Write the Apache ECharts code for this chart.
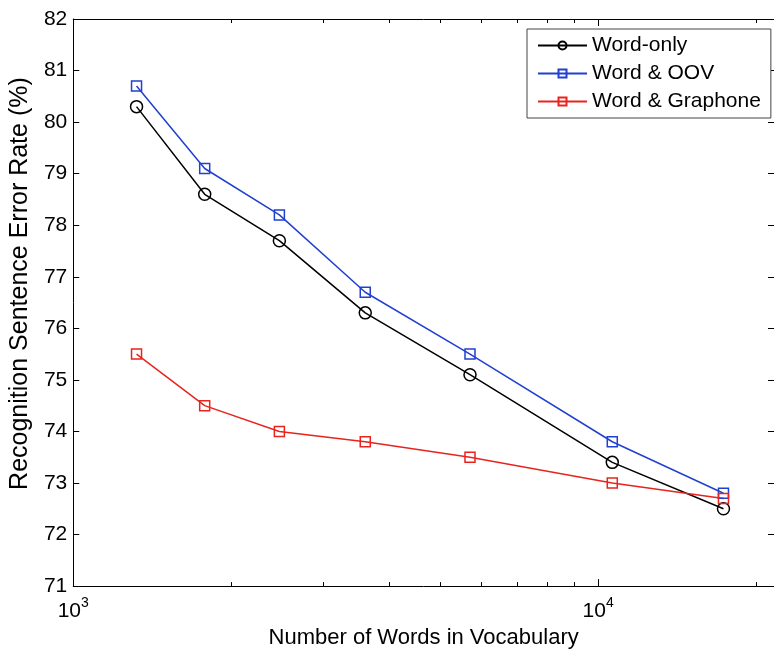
<!DOCTYPE html>
<html>
<head>
<meta charset="utf-8">
<script src="https://cdn.jsdelivr.net/npm/echarts@6/dist/echarts.min.js"></script>
<style>
    html, body { margin: 0; padding: 0; background: #fff; }
    #errorRateChart { width: 774px; height: 654px; }
</style>
</head>
<body>
<div id="errorRateChart"></div>
<script>
// vocabulary sizes (x, log scale)
var vocabSizes = [1320, 1780, 2470, 3600, 5700, 10640, 17330];
// sentence error rate (%) per system
var wordOnly = [80.3, 78.6, 77.7, 76.3, 75.1, 73.4, 72.5];
var wordOov = [80.7, 79.1, 78.2, 76.7, 75.5, 73.8, 72.8];
var wordGraphone = [75.5, 74.5, 74.0, 73.8, 73.5, 73.0, 72.7];
var seriesNames = ['Word-only', 'Word & OOV', 'Word & Graphone'];
// tick positions
var xMajorTicks = [1000, 10000];
var xMinorTicks = [2000, 3000, 4000, 5000, 6000, 7000, 8000, 9000, 20000];

initErrorRateChart();

function toPairs(xs, ys) {
    var out = [];
    for (var i = 0; i < xs.length; i++) {
        out.push([xs[i], ys[i]]);
    }
    return out;
}

function makeSeries(name, values, color, symbol, size) {
    return {
        name: name,
        type: 'line',
        xAxisIndex: 0,
        yAxisIndex: 0,
        data: toPairs(vocabSizes, values),
        symbol: symbol,
        symbolSize: size,
        showAllSymbol: true,
        lineStyle: { color: color, width: 1.5 },
        itemStyle: { color: 'rgba(255,255,255,0)', borderColor: color, borderWidth: 1.5 },
        emphasis: { disabled: true },
        animation: false
    };
}

function initErrorRateChart() {
    var dom = document.getElementById('errorRateChart');
    var myChart = echarts.init(dom, null, { renderer: 'canvas' });
    var font = 'Liberation Sans';
    var xMin = 1000, xMax = 21630;

    // one log x axis per tick group (bottom / top, major / minor)
    function xAxisDef(position, ticks, len, showLine, showLabels) {
        return {
            type: 'log',
            logBase: 10,
            min: xMin,
            max: xMax,
            position: position,
            gridIndex: 0,
            axisLine: { show: showLine, lineStyle: { color: '#000', width: 1 } },
            axisTick: { show: true, inside: true, length: len, customValues: ticks, lineStyle: { color: '#000', width: 1 } },
            axisLabel: showLabels ? {
                show: true,
                customValues: xMajorTicks,
                margin: 10,
                fontFamily: font,
                color: '#000',
                formatter: function (v) {
                    return '{b|10}{s|' + Math.round(Math.log10(v)) + '}';
                },
                rich: {
                    b: { fontSize: 21, fontFamily: font, color: '#000', verticalAlign: 'bottom' },
                    s: { fontSize: 14, fontFamily: font, color: '#000', verticalAlign: 'top', padding: [0, 0, 12, 0] }
                }
            } : { show: false },
            splitLine: { show: false },
            minorTick: { show: false }
        };
    }

    var xAxes = [
        xAxisDef('bottom', xMajorTicks, 7, true, true),
        xAxisDef('bottom', xMinorTicks, 4, false, false),
        xAxisDef('top', xMajorTicks, 7, true, false),
        xAxisDef('top', xMinorTicks, 4, false, false)
    ];
    xAxes[0].name = 'Number of Words in Vocabulary';
    xAxes[0].nameLocation = 'middle';
    xAxes[0].nameGap = 40;
    xAxes[0].nameTextStyle = { fontSize: 22, fontFamily: font, color: '#000' };

    var option = {
        backgroundColor: '#fff',
        animation: false,
        textStyle: { fontFamily: font },
        grid: { left: 71, top: 19, width: 705, height: 569, containLabel: false },
        legend: {
            orient: 'vertical',
            left: 527,
            top: 29,
            padding: [6, 10, 6, 10],
            itemGap: 7,
            itemWidth: 49,
            itemHeight: 10,
            backgroundColor: '#fff',
            borderColor: '#444',
            borderWidth: 1,
            borderRadius: 0,
            data: seriesNames,
            textStyle: { fontSize: 21, fontFamily: font, color: '#000' }
        },
        xAxis: xAxes,
        yAxis: [
            {
                type: 'value',
                min: 71,
                max: 82,
                interval: 1,
                position: 'left',
                name: 'Recognition Sentence Error Rate (%)',
                nameLocation: 'middle',
                nameRotate: 90,
                nameGap: 37,
                nameTextStyle: { fontSize: 25, fontFamily: font, color: '#000', padding: [0, 0, 0, 38] },
                axisLine: { show: true, lineStyle: { color: '#000', width: 1 } },
                axisTick: { show: true, inside: true, length: 6, lineStyle: { color: '#000' } },
                axisLabel: { margin: 6, fontSize: 21, fontFamily: font, color: '#000' },
                splitLine: { show: false }
            },
            {
                type: 'value',
                min: 71,
                max: 82,
                interval: 1,
                position: 'right',
                axisLine: { show: true, lineStyle: { color: '#000', width: 1 } },
                axisTick: { show: true, inside: true, length: 6, lineStyle: { color: '#000' } },
                axisLabel: { show: false },
                splitLine: { show: false }
            }
        ],
        series: [
            makeSeries(seriesNames[0], wordOnly, '#000000', 'circle', 12),
            makeSeries(seriesNames[1], wordOov, '#2140cf', 'rect', 10),
            makeSeries(seriesNames[2], wordGraphone, '#e8241e', 'rect', 10)
        ]
    };

    if (option && typeof option === 'object') {
        myChart.setOption(option, true);
    }
}
</script>
</body>
</html>
